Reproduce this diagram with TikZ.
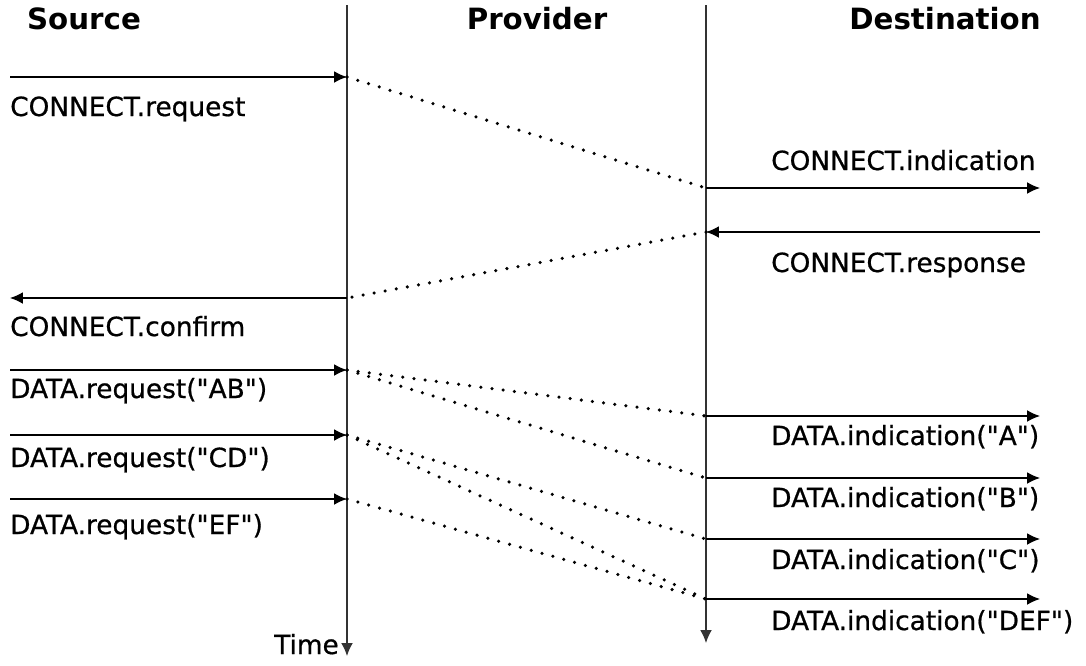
\documentclass[tikz,border=0pt]{standalone}
\usepackage{fontspec}
\setmainfont{DejaVu Sans}[Ligatures=TeXOff]
\newfontfamily\primfont{DejaVu Sans}[Ligatures=TeXOff, FakeBold=0.7]
\usetikzlibrary{positioning, arrows.meta}

\newcommand{\qt}[1]{"#1"}

\begin{document}
\begin{tikzpicture}[x=0.03cm, y=-0.03cm,
	msg/.style={-{Latex[length=11pt, width=10pt]}, line width=1.1pt},
	prim/.style={anchor=base west, inner sep=0pt, font=\fontsize{22.5}{26}\primfont},
	head/.style={anchor=base, inner sep=0pt, font=\fontsize{25}{30}\selectfont\bfseries},
	hop/.style={line width=3pt, dash pattern=on 0pt off 9.6pt, line cap=round},
	life/.style={-{Latex[length=11pt, width=10pt]}, line width=1.1pt, black!80}]
		\useasboundingbox (0,0) rectangle (1086,665);
		% headers
		\node[head] (src) at (84, 29) {Source};
		\node[head] (prv) at (537, 29) {Provider};
		\node[head] (dst) at (945, 29) {Destination};
		% lifelines
		\coordinate (top1) at (347, 5);
		\coordinate (bot1) at (347, 656);
		\coordinate (top2) at (706, 5);
		\coordinate (bot2) at (706, 643);
		\draw[life] (top1) -- (bot1);
		\draw[life] (top2) -- (bot2);
		\node[prim, anchor=base east] (time) at (339, 654) {Time};
		% points on the lifelines
		\foreach \y /\alph in {77/a1, 298/a2, 370/a3, 435/a4, 499/a5}{
			\coordinate (\alph) at (347,\y);
			\coordinate (l\alph) at (10,\y);
		}
		\foreach \y /\alph in {188/b1, 232/b2, 416/b3, 478/b4, 539/b5, 599/b6}{
			\coordinate (\alph) at (706,\y);
			\coordinate (r\alph) at (1040,\y);
		}
		% connect
		\draw[msg] (la1) -- (a1);
		\node[prim] (creq) at (10, 116) {CONNECT.request};
		\draw[hop] (a1) -- (b1);
		\draw[msg] (b1) -- (rb1);
		\node[prim] (cind) at (771, 170) {CONNECT.indication};
		\draw[msg] (rb2) -- (b2);
		\node[prim] (cres) at (771, 272) {CONNECT.response};
		\draw[hop] (b2) -- (a2);
		\draw[msg] (a2) -- (la2);
		\node[prim] (ccnf) at (10, 336) {CONNECT.confirm};
		% data
		\foreach \alph/\y/\name in {a3/398/AB, a4/467/CD, a5/534/EF}{
			\draw[msg] (l\alph) -- (\alph);
			\node[prim] (req\name) at (10,\y) {DATA.request(\qt{\name})};
		}
		\foreach \alph/\y/\name in {b3/445/A, b4/507/B, b5/569/C, b6/630/DEF}{
			\draw[msg] (\alph) -- (r\alph);
			\node[prim] (ind\name) at (771,\y) {DATA.indication(\qt{\name})};
		}
		\foreach \a/\b in {a3/b3, a3/b4, a4/b5, a4/b6, a5/b6}
		 {\draw[hop] (\a) -- (\b);}
\end{tikzpicture}
\end{document}
